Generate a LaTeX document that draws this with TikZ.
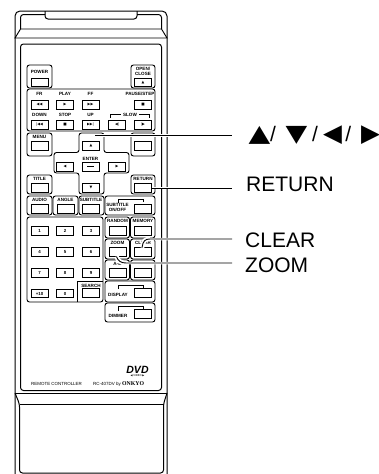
\documentclass[tikz,border=0pt]{standalone}
\usepackage{fontspec}
\setmainfont{Liberation Sans}
\newfontfamily\symfont{DejaVu Sans}
\newfontfamily\widesymfont[FakeStretch=1.2]{DejaVu Sans}
\newfontfamily\onkyofont{Liberation Serif}
\usetikzlibrary{positioning}
\newcommand{\calslash}{{\rmfamily\fontsize{21}{21}\selectfont/}}
\tikzset{
  body/.style={line width=1pt, rounded corners=3pt},
  group/.style={line width=.9pt, rounded corners=2.5pt},
  btn/.style={draw, line width=.8pt, minimum width=17pt, minimum height=8.5pt, inner sep=0pt, font=\symfont\fontsize{3.6}{4}\selectfont},
  key/.style={btn, font=\bfseries\fontsize{4.4}{5}\selectfont},
  lbl/.style={inner sep=0pt, text height=3.4pt, text depth=0pt, align=center, font=\bfseries\fontsize{4.6}{4.8}\selectfont},
  callout/.style={inner sep=0pt, anchor=west, font=\fontsize{21}{21}\selectfont},
  leader/.style={line width=.9pt, preaction={draw=white, line width=2.5pt}},
  halo/.style={draw=white, line width=4.5pt},
  bracket/.style={line width=.7pt}
}
\begin{document}
\begin{tikzpicture}[x=1pt, y=-1pt]
\useasboundingbox (0,0) rectangle (379,474);
% case
\draw[body, rounded corners=5pt] (15,474) -- (15,11) -- (167,11) -- (167,474);
\draw[body] (45,11) -- (45,19) -- (137,19) -- (137,11);
\draw[body] (20.5,29) -- (20.5,14.5) -- (45,14.5);
\draw[body] (137,14.5) -- (161.5,14.5) -- (161.5,29);
\draw[line width=.9pt] (15,38) -- (20.5,29) -- (161.5,29) -- (167,38) -- cycle;
\draw[body] (20.5,44) rectangle (161.5,390.5);
\draw[line width=.9pt] (15,393) -- (167,393);
\draw[body] (15,393) -- (19.5,404) -- (19.5,473) -- (163.5,473) -- (163.5,404) -- (167,393);
\draw[line width=.9pt] (19.5,404) -- (163.5,404);
% groups
\draw[group] (27,65) rectangle (52,88);
\draw[group] (131,65) rectangle (155,88);
\draw[group] (27,89) rectangle (155,131);
\draw[group] (27,133) rectangle (52,156);
\draw[group] (131,133) rectangle (155,156);
\draw[group] (79,133) -- (104,133) -- (104,152.5) -- (129,152.5) -- (129,173) -- (104,173) -- (104,194) -- (79,194) -- (79,173) -- (54,173) -- (54,152.5) -- (79,152.5) -- cycle;
\draw[group] (27,175) rectangle (52,194);
\draw[group] (131,175) rectangle (155,194);
\draw[group] (27,196) rectangle (52,215);
\draw[group] (53,196) rectangle (78,215);
\draw[group] (79,196) rectangle (104,215);
\draw[group] (105,196) rectangle (155,215);
\draw[group] (27,217) rectangle (103,302);
\draw[line width=.8pt] (77,302) -- (77,281) -- (103,281);
\draw[group] (105,217) rectangle (129.5,238);
\draw[group] (130.5,217) rectangle (155,238);
\draw[group] (105,239) rectangle (129.5,259);
\draw[group] (130.5,239) rectangle (155,259);
\draw[group] (105,260) rectangle (129.5,280);
\draw[group] (130.5,260) rectangle (155,280);
\draw[group] (105,281) rectangle (155,302);
\draw[group] (105,303) rectangle (155,322);
% buttons
\node[btn] (btnpower) at (39.5,82.5) {};
\node[btn] (btnopen) at (143,82.5) {▲};
\node[btn] (btnfr) at (39.5,105) {◀◀};
\node[btn] (btnplay) at (65,105) {▶};
\node[btn] (btnff) at (90.5,105) {▶▶};
\node[btn] (btnpause) at (143,105) {■};
\node[btn] (btndown) at (39.5,125) {|◀◀};
\node[btn] (btnstop) at (65,125) {■};
\node[btn] (btnup) at (90.5,125) {▶▶|};
\node[btn] (btnslowl) at (117,125) {◀|};
\node[btn] (btnslowr) at (143,125) {|▶};
\node[btn] (btnmenu) at (39.5,146) {};
\node[btn] (btnblank) at (143,146) {};
\node[btn] (btnarrowu) at (91,146) {▲};
\node[btn] (btnarrowl) at (65,167) {◀};
\node[btn] (btnenter) at (90.5,167) {\rule[.8pt]{7pt}{.9pt}};
\node[btn] (btnarrowr) at (117,167) {▶};
\node[btn] (btnarrowd) at (91,188) {▼};
\node[btn] (btntitle) at (39.5,188) {};
\node[btn] (btnreturn) at (143,188) {};
\node[btn] (btnaudio) at (39.5,209) {};
\node[btn] (btnangle) at (65.5,209) {};
\node[btn] (btnsubtitle) at (91,209) {};
\node[btn] (btnonoff) at (143,209) {};
\node[btn] (btnrandom) at (117.5,231) {};
\node[btn] (btnmemory) at (143,231) {};
\node[btn] (btnzoom) at (117.5,252) {};
\node[btn] (btnclear) at (143,252) {};
\node[btn] (btnab) at (117.5,273) {};
\node[btn] (btnextra) at (143,273) {};
\node[btn] (btndisplay) at (143,293) {};
\node[btn] (btndimmer) at (143,314) {};
\node[btn] (btnsearch) at (91,293) {};
% keypad
\node[key] (key1) at (39.5,231) {1};
\node[key] (key2) at (65,231) {2};
\node[key] (key3) at (91,231) {3};
\node[key] (key4) at (39.5,252) {4};
\node[key] (key5) at (65,252) {5};
\node[key] (key6) at (91,252) {6};
\node[key] (key7) at (39.5,273) {7};
\node[key] (key8) at (65,273) {8};
\node[key] (key9) at (91,273) {9};
\node[key] (key10) at (39.5,293.5) {+10};
\node[key] (key0) at (65,293.5) {0};
% labels
\node[lbl, above=4.5pt of btnpower] (lblpower) {POWER};
\node[lbl, above=2pt of btnopen] (lblopen) {OPEN/\\CLOSE};
\node[lbl, above=4.8pt of btnfr] (lblfr) {FR};
\node[lbl, above=4.8pt of btnplay] (lblplay) {PLAY};
\node[lbl, above=4.8pt of btnff] (lblff) {FF};
\node[lbl, above=4.8pt of btnpause, xshift=-3pt] (lblpause) {PAUSE/STEP};
\node[lbl, above=4pt of btndown] (lbldown) {DOWN};
\node[lbl, above=4pt of btnstop] (lblstop) {STOP};
\node[lbl, above=4pt of btnup] (lblup) {UP};
\node[lbl] (lblslow) at (130,114.5) {SLOW};
\node[lbl, above=2.5pt of btnmenu] (lblmenu) {MENU};
\node[lbl, above=1.8pt of btnenter] (lblenter) {ENTER};
\node[lbl, above=2.8pt of btntitle] (lbltitle) {TITLE};
\node[lbl, above=2.8pt of btnreturn] (lblreturn) {RETURN};
\node[lbl, above=3pt of btnaudio] (lblaudio) {AUDIO};
\node[lbl, above=3pt of btnangle] (lblangle) {ANGLE};
\node[lbl, above=3pt of btnsubtitle] (lblsubtitle) {SUBTITLE};
\node[lbl] (lblonoff) at (117.5,209.5) {SUBTITLE\\ON/OFF};
\node[lbl, above=3.3pt of btnrandom] (lblrandom) {RANDOM};
\node[lbl, above=3.3pt of btnmemory] (lblmemory) {MEMORY};
\node[lbl, above=2.8pt of btnzoom] (lblzoom) {ZOOM};
\node[lbl, above=2.8pt of btnclear] (lblclear) {CLEAR};
\node[lbl, above=2.8pt of btnab] (lblab) {A-B};
\node[lbl, above=1pt of btnsearch] (lblsearch) {SEARCH};
\node[lbl] (lbldisplay) at (118,295) {DISPLAY};
\node[lbl] (lbldimmer) at (118,316) {DIMMER};
% brackets
\draw[bracket, shorten >=2pt] (110,118) -- (110,114.5) -- (lblslow.west);
\draw[bracket, shorten <=2pt] (lblslow.east) -- (149,114.5) -- (149,118);
\draw[bracket] (118,203) -- (118,199) -- (143,199) -- (143,202);
\draw[bracket] (118,289) -- (118,285) -- (143,285) -- (143,288);
\draw[bracket] (118,311) -- (118,306) -- (143,306) -- (143,309);
% logo and maker
\node[inner sep=0pt, font=\bfseries\itshape\fontsize{10.5}{11}\selectfont] (logodvd) at (137.5,370) {DVD};
\node[inner sep=0pt, below=1pt of logodvd, font=\symfont\fontsize{2.6}{3}\selectfont] (logovideo) {◀ VIDEO ▶};
\node[inner sep=0pt, anchor=west, font=\fontsize{4.45}{5}\selectfont] (lblremote) at (31,384) {REMOTE CONTROLLER};
\node[inner sep=0pt, anchor=west, font=\fontsize{4.5}{5}\selectfont] (lblmodel) at (93,384) {RC-407DV by {\onkyofont\bfseries\fontsize{5.8}{5}\selectfont ONKYO}};
% callouts
\node[callout, font=\widesymfont\fontsize{23.5}{21}\selectfont] (calarrows) at (248.3,135) {▲\calslash\hspace{9.5pt}▼\hspace{5pt}\calslash\hspace{5pt}{\symfont\fontsize{24.5}{21}\selectfont◀}\hspace{3.6pt}\calslash\hspace{9.7pt}{\symfont\fontsize{24.5}{21}\selectfont▶}};
\node[callout] (calreturn) at (246,184.5) {RETURN};
\node[callout] (calclear) at (245,240.5) {CLEAR};
\node[callout] (calzoom) at (245,265.5) {ZOOM};
\coordinate (endarrows) at (232,135.7);
\coordinate (endreturn) at (232,188);
\coordinate (endclear) at (232,239);
\coordinate (endzoom) at (232,263);
\coordinate (startarrows) at (95,135.7);
\coordinate (startclear) at (142,247.5);
\coordinate (startzoom) at (116.5,256.5);
\path[halo] (startclear) .. controls (143,241) and (145,239) .. (150,239);
\path[halo] (startzoom) .. controls (118,261) and (121,263) .. (126,263);
\draw[leader] (startarrows) -- (endarrows);
\draw[leader] (btnreturn.east) -- (endreturn);
\draw[leader] (startclear) .. controls (143,241) and (145,239) .. (150,239) -- (endclear);
\draw[leader] (startzoom) .. controls (118,261) and (121,263) .. (126,263) -- (endzoom);
\end{tikzpicture}
\end{document}
